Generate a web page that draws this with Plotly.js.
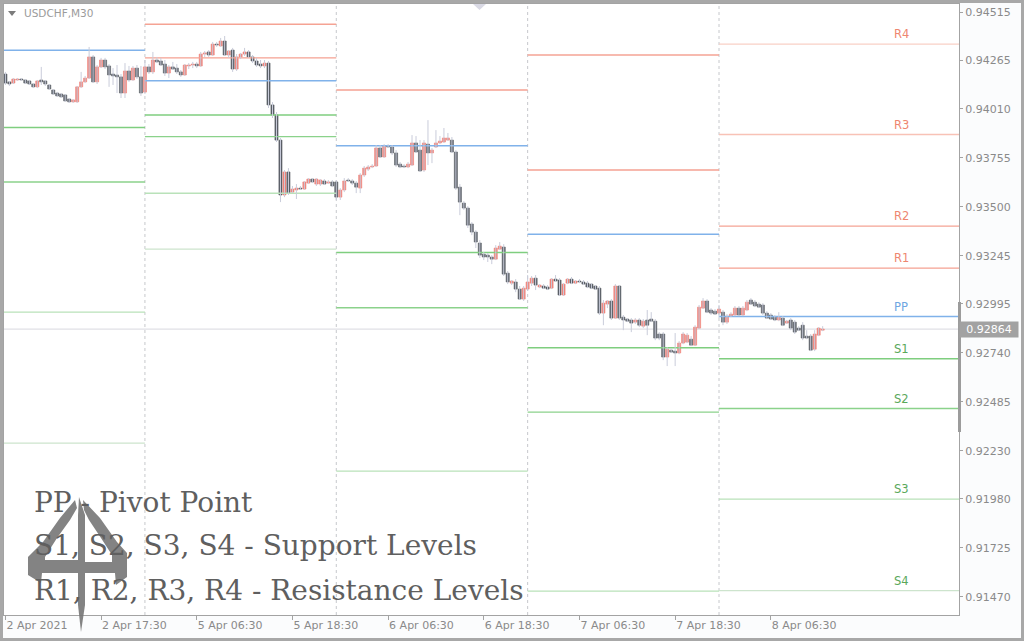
<!DOCTYPE html>
<html><head><meta charset="utf-8">
<script src="https://cdn.plot.ly/plotly-3.0.1.min.js"></script>
<style>
html,body{margin:0;padding:0;background:#a8a8a8;width:1024px;height:641px;overflow:hidden}
#chart{position:absolute;left:3px;top:3px;width:1018px;height:635px;background:#fbfcfd}
</style></head><body><div id="chart"></div>
<script>
// ---------------- data ----------------
const symbolLabel = 'USDCHF,M30';

// USDCHF M30 candles, 2 Apr 05:30 .. 8 Apr (bar index 0..205)
const open = [
 0.94192,0.94151,0.94145,0.94161,0.94166,0.94161,0.94156,0.94140,0.94125,0.94161,0.94156,0.94135,0.94109,0.94093,0.94088,0.94083,0.94062,0.94047,0.94047,0.94125,0.94151,0.94171,0.94281,0.94151,0.94229,0.94265,0.94234,0.94192,0.94187,0.94177,0.94093,0.94208,0.94161,0.94223,0.94177,
 0.94098,0.94229,0.94203,0.94265,0.94260,0.94244,0.94197,0.94229,0.94223,0.94203,0.94187,0.94234,0.94239,0.94244,0.94234,0.94296,0.94307,0.94291,0.94348,0.94338,0.94364,0.94291,0.94317,0.94218,0.94281,0.94296,0.94307,0.94281,0.94260,0.94244,0.94234,0.94249,0.94031,0.93979,0.93848,0.93562,0.93682,0.93577,0.93588,0.93598,0.93593,0.93624,0.93645,0.93619,0.93619,0.93635,0.93624,0.93630,
 0.93630,0.93551,0.93588,0.93640,0.93635,0.93624,0.93598,0.93666,0.93697,0.93708,0.93713,0.93807,0.93760,0.93817,0.93812,0.93781,0.93723,0.93713,0.93708,0.93718,0.93833,0.93796,0.93692,0.93827,0.93781,0.93812,0.93833,0.93838,0.93848,0.93848,0.93786,0.93603,0.93520,0.93494,0.93411,0.93369,0.93312,0.93254,0.93249,0.93239,0.93228,0.93280,0.93291,0.93155,0.93103,0.93109,0.93072,0.93020,
 0.93072,0.93103,0.93129,0.93083,0.93088,0.93083,0.93077,0.93124,0.93119,0.93041,0.93103,0.93124,0.93103,0.93114,0.93109,0.93103,0.93098,0.93088,0.93077,0.92947,0.92994,0.93010,0.92921,0.93088,0.92926,0.92916,0.92911,0.92900,0.92911,0.92879,0.92911,0.92916,0.92905,0.92838,0.92838,0.92718,0.92754,0.92749,0.92739,0.92791,0.92796,0.92811,0.92780,0.92869,0.92973,0.93010,0.92963,0.92957,
 0.92947,0.92952,0.92900,0.92931,0.92937,0.92973,0.92937,0.92963,0.93015,0.93004,0.92994,0.92989,0.92947,0.92937,0.92926,0.92911,0.92921,0.92895,0.92911,0.92900,0.92869,0.92884,0.92827,0.92827,0.92759,0.92832,0.92858
];
const high = [
 0.94203,0.94156,0.94171,0.94171,0.94171,0.94166,0.94161,0.94145,0.94161,0.94229,0.94161,0.94140,0.94114,0.94099,0.94093,0.94088,0.94067,0.94062,0.94130,0.94203,0.94182,0.94333,0.94291,0.94239,0.94276,0.94276,0.94244,0.94223,0.94239,0.94192,0.94249,0.94234,0.94234,0.94239,0.94234,
 0.94265,0.94244,0.94307,0.94281,0.94276,0.94265,0.94239,0.94255,0.94244,0.94213,0.94244,0.94249,0.94255,0.94255,0.94307,0.94312,0.94317,0.94359,0.94359,0.94380,0.94390,0.94317,0.94328,0.94296,0.94302,0.94328,0.94317,0.94291,0.94276,0.94265,0.94265,0.94260,0.94046,0.93994,0.93859,0.93692,0.93702,0.93609,0.93619,0.93609,0.93635,0.93650,0.93650,0.93650,0.93645,0.93645,0.93640,0.93640,
 0.93640,0.93598,0.93650,0.93650,0.93645,0.93635,0.93676,0.93713,0.93718,0.93723,0.93822,0.93822,0.93827,0.93827,0.93822,0.93796,0.93734,0.93723,0.93734,0.93874,0.93869,0.93848,0.93848,0.93952,0.93807,0.93900,0.93869,0.93911,0.93885,0.93864,0.93796,0.93619,0.93530,0.93504,0.93421,0.93379,0.93327,0.93265,0.93260,0.93249,0.93301,0.93317,0.93306,0.93166,0.93119,0.93124,0.93088,0.93088,
 0.93145,0.93140,0.93145,0.93098,0.93098,0.93093,0.93129,0.93145,0.93129,0.93103,0.93129,0.93135,0.93119,0.93124,0.93119,0.93114,0.93103,0.93093,0.93088,0.93015,0.93015,0.93020,0.93098,0.93093,0.92937,0.92921,0.92921,0.92921,0.92921,0.92916,0.92963,0.92952,0.92916,0.92848,0.92848,0.92770,0.92765,0.92843,0.92801,0.92848,0.92843,0.92827,0.92884,0.92989,0.93025,0.93020,0.92973,0.92968,
 0.92989,0.92963,0.92942,0.92952,0.92984,0.92984,0.92984,0.93015,0.93025,0.93015,0.93004,0.92999,0.92957,0.92947,0.92937,0.92952,0.92931,0.92911,0.92921,0.92911,0.92879,0.92900,0.92858,0.92838,0.92858,0.92874,0.92879
];
const low = [
 0.94135,0.94130,0.94140,0.94156,0.94156,0.94140,0.94135,0.94119,0.94119,0.94135,0.94130,0.94109,0.94083,0.94073,0.94067,0.94047,0.94041,0.94041,0.94041,0.94119,0.94145,0.94166,0.94145,0.94140,0.94223,0.94218,0.94125,0.94135,0.94093,0.94067,0.94067,0.94151,0.94156,0.94166,0.94078,
 0.94088,0.94192,0.94192,0.94249,0.94234,0.94182,0.94171,0.94213,0.94192,0.94177,0.94182,0.94218,0.94223,0.94223,0.94229,0.94281,0.94281,0.94286,0.94333,0.94333,0.94286,0.94276,0.94203,0.94208,0.94270,0.94286,0.94276,0.94249,0.94229,0.94223,0.94223,0.94015,0.93963,0.93838,0.93525,0.93551,0.93562,0.93572,0.93541,0.93588,0.93588,0.93619,0.93624,0.93609,0.93609,0.93614,0.93619,0.93603,
 0.93536,0.93536,0.93577,0.93630,0.93614,0.93572,0.93572,0.93656,0.93687,0.93702,0.93708,0.93755,0.93755,0.93807,0.93770,0.93708,0.93702,0.93702,0.93702,0.93713,0.93781,0.93682,0.93682,0.93718,0.93728,0.93807,0.93827,0.93833,0.93843,0.93781,0.93588,0.93457,0.93484,0.93390,0.93353,0.93286,0.93234,0.93223,0.93213,0.93202,0.93223,0.93275,0.93140,0.93098,0.93093,0.93056,0.93015,0.93010,
 0.93062,0.93088,0.93067,0.93077,0.93072,0.93067,0.93072,0.93109,0.93036,0.93036,0.93098,0.93098,0.93098,0.93103,0.93093,0.93077,0.93072,0.93067,0.92937,0.92884,0.92973,0.92911,0.92916,0.92911,0.92858,0.92900,0.92848,0.92890,0.92874,0.92869,0.92832,0.92900,0.92806,0.92806,0.92702,0.92671,0.92739,0.92671,0.92733,0.92785,0.92791,0.92775,0.92775,0.92864,0.92968,0.92947,0.92937,0.92937,
 0.92921,0.92884,0.92890,0.92926,0.92931,0.92931,0.92931,0.92957,0.92989,0.92978,0.92973,0.92937,0.92916,0.92911,0.92905,0.92905,0.92879,0.92890,0.92858,0.92838,0.92853,0.92806,0.92811,0.92749,0.92749,0.92827,0.92853
];
const close = [
 0.94145,0.94140,0.94166,0.94166,0.94161,0.94145,0.94140,0.94125,0.94156,0.94151,0.94140,0.94114,0.94088,0.94078,0.94073,0.94052,0.94047,0.94057,0.94125,0.94151,0.94171,0.94281,0.94151,0.94229,0.94265,0.94229,0.94187,0.94182,0.94177,0.94093,0.94208,0.94161,0.94223,0.94177,0.94093,
 0.94229,0.94203,0.94265,0.94255,0.94239,0.94197,0.94229,0.94218,0.94203,0.94187,0.94239,0.94239,0.94244,0.94234,0.94296,0.94302,0.94291,0.94348,0.94343,0.94364,0.94291,0.94312,0.94218,0.94281,0.94296,0.94307,0.94281,0.94260,0.94239,0.94234,0.94249,0.94031,0.93979,0.93848,0.93562,0.93682,0.93572,0.93593,0.93598,0.93593,0.93630,0.93645,0.93630,0.93645,0.93640,0.93619,0.93630,0.93609,
 0.93551,0.93588,0.93635,0.93635,0.93624,0.93603,0.93666,0.93702,0.93708,0.93713,0.93807,0.93760,0.93817,0.93812,0.93781,0.93718,0.93708,0.93708,0.93723,0.93833,0.93786,0.93687,0.93833,0.93781,0.93796,0.93833,0.93843,0.93859,0.93859,0.93786,0.93598,0.93525,0.93494,0.93405,0.93369,0.93317,0.93249,0.93239,0.93239,0.93228,0.93286,0.93296,0.93150,0.93109,0.93114,0.93072,0.93020,0.93077,
 0.93109,0.93129,0.93093,0.93093,0.93077,0.93072,0.93124,0.93114,0.93041,0.93098,0.93124,0.93103,0.93114,0.93109,0.93098,0.93083,0.93077,0.93072,0.92947,0.92999,0.93010,0.92921,0.93088,0.92921,0.92911,0.92905,0.92895,0.92911,0.92884,0.92905,0.92884,0.92905,0.92817,0.92817,0.92718,0.92759,0.92744,0.92739,0.92791,0.92838,0.92832,0.92780,0.92874,0.92978,0.93010,0.92952,0.92947,0.92942,
 0.92968,0.92900,0.92931,0.92942,0.92973,0.92937,0.92973,0.93004,0.92994,0.92984,0.92978,0.92947,0.92921,0.92916,0.92911,0.92926,0.92884,0.92905,0.92869,0.92848,0.92858,0.92817,0.92817,0.92754,0.92838,0.92869,0.92864
];

// time axis (bar index of each labelled bar)
const xTickIdx  = [0, 24, 48, 72, 96, 120, 144, 168, 192];
const xTickText = ['2 Apr 2021','2 Apr 17:30','5 Apr 06:30','5 Apr 18:30','6 Apr 06:30','6 Apr 18:30','7 Apr 06:30','7 Apr 18:30','8 Apr 06:30'];
// first bar of each new day (5,6,7,8 Apr)
const dayStartIdx = [35, 83, 131, 179];

// price axis
const yTickVals = [0.94515,0.94265,0.94010,0.93755,0.93500,0.93245,0.92995,0.92740,0.92485,0.92230,0.91980,0.91725,0.91470];
const yTickText = ['0.94515','0.94265','0.94010','0.93755','0.93500','0.93245','0.92995','0.92740','0.92485','0.92230','0.91980','0.91725','0.91470'];

// daily pivot levels: 2 Apr, 5 Apr, 6 Apr, 7 Apr, 8 Apr (null = off chart)
const levelR4 = [null,    null,    null,    null,    0.94348];
const levelR3 = [null,    null,    null,    null,    0.93877];
const levelR2 = [null,    0.94451, null,    0.94291, 0.93400];
const levelR1 = [null,    0.94276, 0.94109, 0.93692, 0.93181];
const levelPP = [0.94316, 0.94157, 0.93819, 0.93357, 0.92929];
const levelS1 = [0.93913, 0.93979, 0.93263, 0.92766, 0.92709];
const levelS2 = [0.93630, 0.93866, 0.92975, 0.92431, 0.92450];
const levelS3 = [0.92952, 0.93571, 0.92124, 0.91499, 0.91978];
const levelS4 = [0.92270, 0.93280, null,    null,    0.91502];

const legendLines = ['PP - Pivot Point', 'S1, S2, S3, S4 - Support Levels', 'R1, R2, R3, R4 - Resistance Levels'];

// ---------------- styling / layout constants ----------------
const BULL = '#f0837a', BEAR = '#5a5f67', WICK = '#c9ccda';
const X_RANGE = [-0.35, 239.2];
const Y_RANGE = [0.913747, 0.945567];
const PX = {l: 4, r: 959, t: 4, b: 615}; // plot area in page pixels
const toPaper = (x, y) => [((x - PX.l) / (PX.r - PX.l)).toFixed(5), ((PX.b - y) / (PX.b - PX.t)).toFixed(5)];
const pathFrom = pts => 'M ' + pts.map(p => toPaper(p[0], p[1]).join(',')).join(' L ') + ' Z';

const levels = [
  {name:'R4', vals: levelR4, color:'#f9d0c6', width:1.3, text:'#ee8670'},
  {name:'R3', vals: levelR3, color:'#f8c2b6', width:1.3, text:'#ee8670'},
  {name:'R2', vals: levelR2, color:'#f5a394', width:1.4, text:'#ee8670'},
  {name:'R1', vals: levelR1, color:'#f5a192', width:1.4, text:'#ee8670'},
  {name:'PP', vals: levelPP, color:'#80b2ea', width:1.5, text:'#6fa6e2'},
  {name:'S1', vals: levelS1, color:'#7fce7f', width:1.5, text:'#5aa85a'},
  {name:'S2', vals: levelS2, color:'#8bd28b', width:1.4, text:'#5aa85a'},
  {name:'S3', vals: levelS3, color:'#b9e2b9', width:1.3, text:'#5aa85a'},
  {name:'S4', vals: levelS4, color:'#cde4cd', width:1.3, text:'#5aa85a'}
];

// ---------------- traces ----------------
const idx = open.map((_, i) => i);
const traces = [];
const dayEdges = [X_RANGE[0], ...dayStartIdx, X_RANGE[1]];

levels.forEach(L => {
  const x = [], y = [];
  L.vals.forEach((v, d) => {
    if (v === null) return;
    x.push(dayEdges[d], dayEdges[d + 1], null);
    y.push(v, v, null);
  });
  traces.push({type:'scatter', mode:'lines', x, y, line:{color:L.color, width:L.width}, hoverinfo:'skip'});
});

const wx = [], wy = [];
idx.forEach(i => { wx.push(i, i, null); wy.push(low[i], high[i], null); });
traces.push({type:'scatter', mode:'lines', x:wx, y:wy, line:{color:WICK, width:1}, hoverinfo:'skip'});

const bodyColors = idx.map(i => close[i] >= open[i] ? BULL : BEAR);
traces.push({
  type:'bar', x: idx,
  base: idx.map(i => Math.min(open[i], close[i])),
  y: idx.map(i => Math.abs(close[i] - open[i])),
  width: 0.78,
  marker: {color: bodyColors, line:{width:0.6, color: bodyColors}},
  hoverinfo:'skip'
});

// ---------------- shapes ----------------
const lastClose = close[close.length - 1];
const shapes = [];
dayStartIdx.forEach(x => shapes.push({type:'line', xref:'x', yref:'paper', x0:x, x1:x, y0:0, y1:1,
  line:{color:'#c6c8cc', width:1, dash:'3px,3px'}, layer:'below'}));
shapes.push({type:'line', xref:'paper', yref:'y', x0:0, x1:1, y0:lastClose, y1:lastClose,
  line:{color:'#e0e0e6', width:1.2}, layer:'below'});
// right edge handle
shapes.push({type:'rect', xref:'paper', yref:'paper', x0:1 - 1/955, x1:1 + 2/955,
  y0: (PX.b - 432) / (PX.b - PX.t), y1: (PX.b - 302) / (PX.b - PX.t), fillcolor:'#9c9c9c', line:{width:0}});
// small triangles
shapes.push({type:'path', xref:'paper', yref:'paper', path: pathFrom([[8,11],[16,11],[12,16]]), fillcolor:'#7c7c7c', line:{width:0}});
shapes.push({type:'path', xref:'paper', yref:'paper', path: pathFrom([[473,4],[486,4],[479.5,10]]), fillcolor:'#d9d9e4', line:{width:0}});
// watermark logo (decorative)
const logoParts = [
  // left blade + crossbar
  [[75,500],[60,518],[43,542],[28,557],[28,575],[41,583],[42,573],[78,573],[78,560],[45,560],[45,557],[57,538],[70,520],[77,508]],
  // central spine
  [[79,497],[85,515],[85,605],[81,632],[78,605],[78,515]],
  // right blade + crossbar
  [[83,500],[100,518],[117,542],[127,553],[127,577],[116,585],[115,573],[85,573],[85,562],[112,562],[112,555],[101,538],[89,520],[84,510]]
];
logoParts.forEach(p => shapes.push({type:'path', xref:'paper', yref:'paper', path: pathFrom(p),
  fillcolor:'#767676', opacity:0.9, line:{width:0}, layer:'above'}));

// ---------------- annotations ----------------
const annotations = [];
annotations.push({xref:'paper', yref:'paper', x: toPaper(22, 0)[0], y: toPaper(0, 13)[1], xanchor:'left', yanchor:'middle',
  text: symbolLabel, showarrow:false, font:{family:'DejaVu Sans, sans-serif', size:10.5, color:'#9b9b9b'}});
const lineYs = [502, 546, 591];
legendLines.forEach((t, k) => annotations.push({xref:'paper', yref:'paper', x: toPaper(32, 0)[0], y: toPaper(0, lineYs[k])[1],
  xanchor:'left', yanchor:'middle', text:t, showarrow:false, font:{family:'DejaVu Serif, serif', size:28, color:'#5f5f5f'}}));
levels.forEach(L => {
  const v = L.vals[L.vals.length - 1];
  if (v === null) return;
  annotations.push({xref:'x', yref:'y', x: 224.7, y: v, yanchor:'bottom', yshift: 1, text: L.name, showarrow:false,
    font:{family:'DejaVu Sans, sans-serif', size:11.5, color:L.text}});
});
annotations.push({xref:'paper', yref:'y', x:1, y:lastClose, xanchor:'left', yanchor:'middle', text:lastClose.toFixed(5),
  showarrow:false, bgcolor:'#a2a2a2', width:56, height:13, align:'center', borderpad:1,
  font:{family:'DejaVu Sans, sans-serif', size:11, color:'#ffffff'}});

// ---------------- layout ----------------
const axisFont = {family:'DejaVu Sans, sans-serif', size:11, color:'#8a8a8a'};
const layout = {
  width:1018, height:635,
  margin:{l:1, r:62, t:1, b:23, pad:0},
  paper_bgcolor:'#fbfcfd', plot_bgcolor:'#ffffff',
  showlegend:false, hovermode:false, dragmode:false, bargap:0,
  xaxis:{range:X_RANGE, showgrid:false, zeroline:false, showline:true, mirror:true, linecolor:'#a3a3a3', linewidth:1,
    ticks:'outside', ticklen:4, tickcolor:'#a3a3a3', tickvals:xTickIdx, ticktext:xTickText,
    ticklabelposition:'outside right', tickfont:axisFont, fixedrange:true},
  yaxis:{range:Y_RANGE, side:'right', showgrid:false, zeroline:false, showline:true, mirror:true, linecolor:'#a3a3a3', linewidth:1,
    ticks:'outside', ticklen:3, tickcolor:'#a3a3a3', tickvals:yTickVals, ticktext:yTickText, tickfont:axisFont, fixedrange:true},
  shapes, annotations
};
Plotly.newPlot('chart', traces, layout, {displayModeBar:false, staticPlot:true});
</script></body></html>
